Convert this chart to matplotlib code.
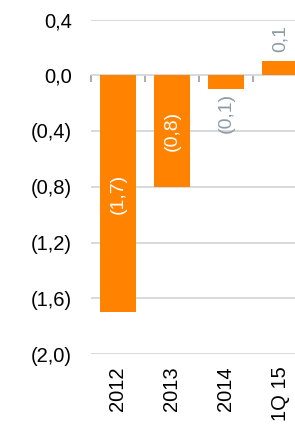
import matplotlib
matplotlib.use('Agg')
import matplotlib.pyplot as plt
import matplotlib.ticker as ticker

plt.rcParams['font.family'] = ['Liberation Sans', 'DejaVu Sans']

# data
categories = ['2012', '2013', '2014', '1Q 15']
values = [-1.7, -0.8, -0.1, 0.1]
labels = ['(1,7)', '(0,8)', '(0,1)', '0,1']
yticks = [0.4, 0.0, -0.4, -0.8, -1.2, -1.6, -2.0]

ORANGE = '#FF8200'
GREY_TXT = '#8E9BA6'
GRID = '#D3D7DB'


def fmt(v, pos=None):
    s = f'{abs(v):.1f}'.replace('.', ',')
    return f'({s})' if v < -1e-9 else s


fig = plt.figure(figsize=(2.95, 4.25), dpi=100)
# the original is cut on the right side, so the axes run past the figure edge
ax = fig.add_axes([91 / 295, 71 / 425, 216 / 295, 334.5 / 425])

x = list(range(len(categories)))
ax.bar(x, values, width=0.667, color=ORANGE, zorder=3)

ax.set_xlim(-0.5, len(categories) - 0.5)
ax.set_ylim(-2.0, 0.4)
ax.set_yticks(yticks)
ax.yaxis.set_major_formatter(ticker.FuncFormatter(fmt))
ax.grid(axis='y', color=GRID, linewidth=1.3, zorder=0)
ax.set_axisbelow(True)
for s in ax.spines.values():
    s.set_visible(False)
ax.tick_params(axis='y', length=0, pad=13.5, labelsize=14.5, colors='black')
ax.set_xticks(x)
ax.set_xticklabels(categories, rotation=90, fontsize=14.5)
ax.tick_params(axis='x', length=0, pad=9)

# zero line with small ticks at category boundaries
y0, y1 = ax.get_ylim()
zero_pos = (0 - y0) / (y1 - y0)
sec = ax.secondary_xaxis(zero_pos)
sec.set_xticks([i - 0.5 for i in x])
sec.tick_params(direction='out', length=5, width=1.3, color='#A6A6A6', labelbottom=False, labeltop=False, bottom=True, top=False)
sec.spines['bottom'].set_color('#A6A6A6')
sec.spines['bottom'].set_linewidth(1.6)
sec.spines['top'].set_visible(False)
sec.xaxis.set_ticks_position('bottom')
sec.set_xticklabels([])

for xi, v, lab in zip(x, values, labels):
    if abs(v) > 0.5:
        ax.text(xi, v / 2, lab, rotation=90, ha='center', va='center',
                color='white', fontsize=14, zorder=4)
    elif v < 0:
        ax.annotate(lab, (xi, v), xytext=(0, -3), textcoords='offset points',
                    rotation=90, ha='center', va='top', color=GREY_TXT, fontsize=14)
    else:
        ax.annotate(lab, (xi, v), xytext=(0, 6.5), textcoords='offset points',
                    rotation=90, ha='center', va='bottom', color=GREY_TXT, fontsize=14)

fig.savefig('out.png', dpi=100)
